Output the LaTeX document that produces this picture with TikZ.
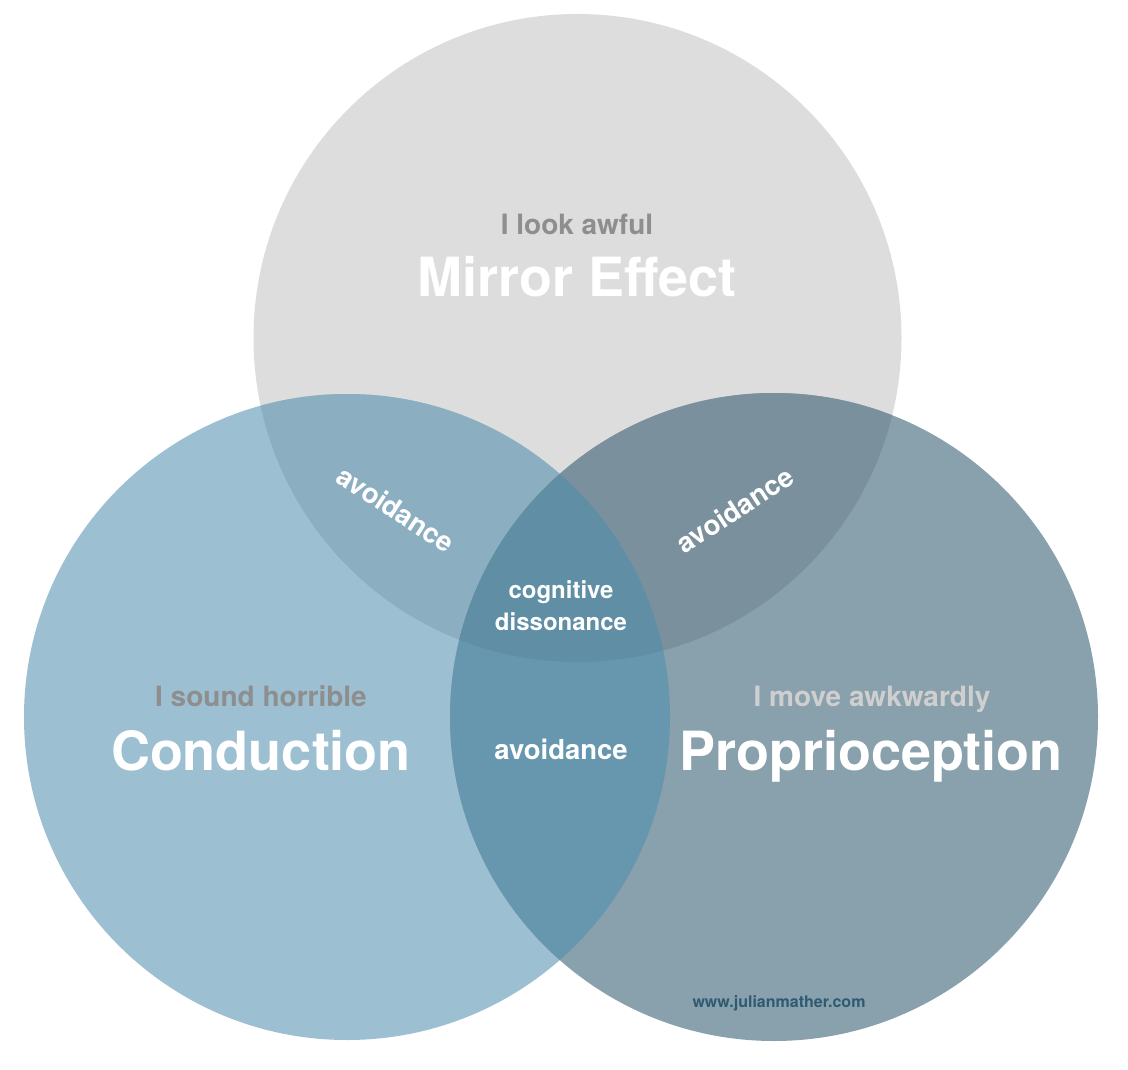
\documentclass[tikz,border=0pt]{standalone}
\usepackage{fontspec}
\setmainfont{TeX Gyre Heros}
\definecolor{cT}{HTML}{DDDDDD}
\definecolor{cL}{HTML}{9DBFD2}
\definecolor{cR}{HTML}{89A0AD}
\definecolor{cTL}{HTML}{8CAEC1}
\definecolor{cTR}{HTML}{7A909C}
\definecolor{cLR}{HTML}{6797AE}
\definecolor{cC}{HTML}{5F8EA5}
\definecolor{subgray}{HTML}{8E8E8E}
\definecolor{sublight}{HTML}{CFCFCF}
\definecolor{web}{HTML}{2E5A72}
\begin{document}
\begin{tikzpicture}[x=1pt,y=-1pt,
  title/.style={text=white,font=\fontsize{54}{54}\selectfont\bfseries,anchor=base,inner sep=0pt},
  sub/.style={font=\fontsize{28}{28}\selectfont\bfseries,anchor=base,inner sep=0pt},
  small/.style={text=white,font=\fontsize{24}{24}\selectfont\bfseries,anchor=base,inner sep=0pt},
  avoid/.style={text=white,font=\fontsize{27.5}{27.5}\selectfont\bfseries,inner sep=0pt}]
\useasboundingbox (0,0) rectangle (1128,1070);
\fill[white] (0,0) rectangle (1128,1070);
\coordinate (T) at (577.5,338);
\coordinate (L) at (347,717);
\coordinate (R) at (774,717);
\fill[cT] (T) circle[radius=324pt];
\fill[cL] (L) circle[radius=323pt];
\fill[cR] (R) circle[radius=324pt];
\begin{scope}
  \clip (T) circle[radius=324pt];
  \fill[cTL] (L) circle[radius=323pt];
\end{scope}
\begin{scope}
  \clip (T) circle[radius=324pt];
  \fill[cTR] (R) circle[radius=324pt];
\end{scope}
\begin{scope}
  \clip (L) circle[radius=323pt];
  \fill[cLR] (R) circle[radius=324pt];
\end{scope}
\begin{scope}
  \clip (T) circle[radius=324pt];
  \clip (L) circle[radius=323pt];
  \fill[cC] (R) circle[radius=324pt];
\end{scope}
\node[sub,text=subgray] (s1) at (577,234) {I look awful};
\node[title] (t1) at (577,296) {Mirror Effect};
\node[sub,text=subgray] (s2) at (261,706) {I sound horrible};
\node[title] (t2) at (261,770) {Conduction};
\node[sub,text=sublight] (s3) at (872,706) {I move awkwardly};
\node[title] (t3) at (871,770) {Proprioception};
\node[small] (c1) at (561,598) {cognitive};
\node[small] (c2) at (561,630) {dissonance};
\node[avoid,anchor=base] (a3) at (561,759) {avoidance};
\node[avoid,rotate=-33] (a1) at (396,509) {avoidance};
\node[avoid,rotate=33] (a2) at (735,510) {avoidance};
\node[text=web,font=\fontsize{16}{16}\selectfont\bfseries,anchor=base,inner sep=0pt] (w) at (779,1007) {www.julianmather.com};
\end{tikzpicture}
\end{document}
